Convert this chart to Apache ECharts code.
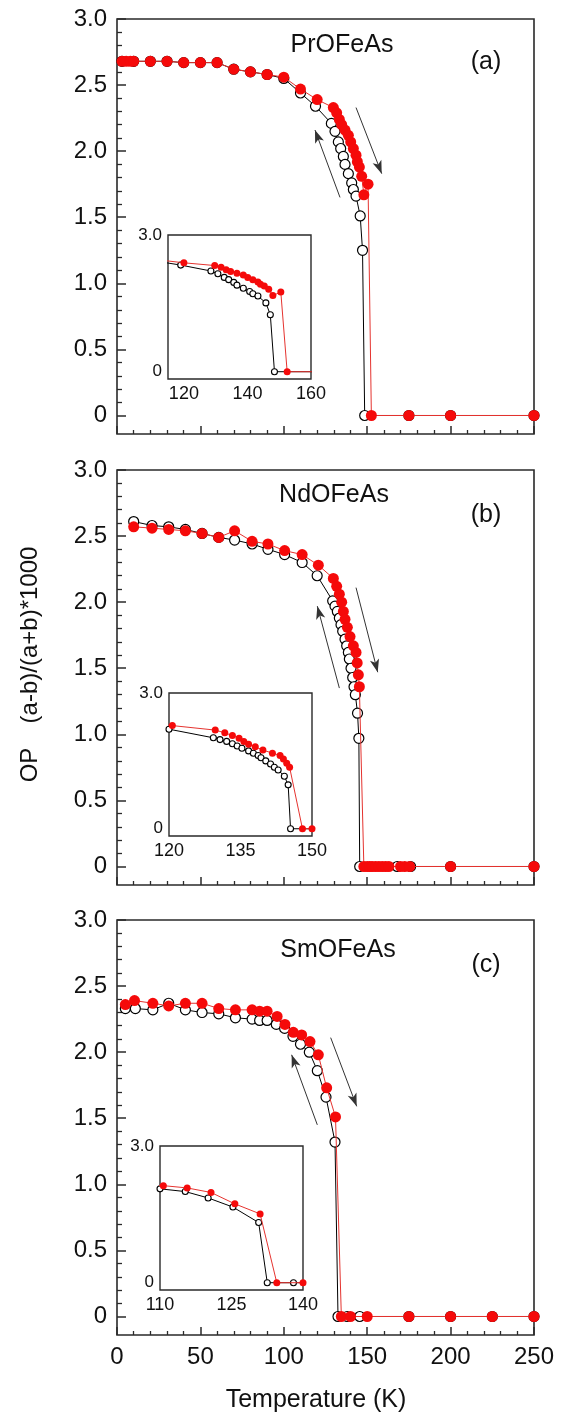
<!DOCTYPE html>
<html>
<head>
<meta charset="utf-8">
<script src="https://cdn.jsdelivr.net/npm/echarts@6/dist/echarts.min.js"></script>
<style>
  html, body { margin: 0; padding: 0; background: #fff; }
  #chart { width: 564px; height: 1414px; }
</style>
</head>
<body>
<div id="chart"></div>
<script>
// Orthorhombic order parameter OP = (a-b)/(a+b)*1000 versus temperature (K)
// Open circles: cooling run; filled red circles: warming run.

// ---- PrOFeAs ----
const prCooling = [
  [3, 2.68], [10, 2.68], [20, 2.68], [30, 2.68], [40, 2.67], [50, 2.67], [60, 2.67],
  [70, 2.62], [80, 2.60], [90, 2.58], [100, 2.55], [110, 2.44], [119, 2.34],
  [128.5, 2.21], [130.7, 2.15], [132.7, 2.07], [134.1, 2.02], [135.7, 1.96], [136.7, 1.90],
  [138.7, 1.83], [140.7, 1.76], [141.7, 1.71], [143.3, 1.66], [145.8, 1.51], [147.2, 1.25],
  [148.5, 0], [175, 0], [200, 0], [250, 0]
];
const prWarming = [
  [3, 2.68], [5.5, 2.68], [8, 2.68], [10, 2.68], [20, 2.68], [30, 2.68], [40, 2.67],
  [50, 2.67], [60, 2.67], [70, 2.62], [80, 2.60], [90, 2.58], [100, 2.56], [110, 2.47],
  [120, 2.39], [129.7, 2.33], [131.7, 2.29], [133.3, 2.24], [134.7, 2.20], [136.7, 2.16],
  [138.7, 2.12], [140.1, 2.07], [141.7, 2.02], [143.3, 1.97], [144.1, 1.92], [145.3, 1.88],
  [146.7, 1.81], [148, 1.67], [150.5, 1.75], [152.5, 0], [175, 0], [200, 0], [250, 0]
];

// ---- NdOFeAs ----
const ndCooling = [
  [10, 2.61], [21, 2.58], [31, 2.57], [41, 2.55], [51, 2.52], [61, 2.49], [70.5, 2.47],
  [81, 2.44], [90.5, 2.40], [100.5, 2.36], [111, 2.30], [120, 2.20], [129.3, 2.01],
  [130.7, 1.97], [132.1, 1.93], [133.3, 1.88], [134.3, 1.83], [135.3, 1.78], [136.7, 1.72],
  [137.7, 1.67], [138.7, 1.62], [139.3, 1.57], [140.3, 1.50], [141.3, 1.43], [142.1, 1.36],
  [142.9, 1.30], [144.2, 1.16], [145, 0.97], [145.5, 0], [168, 0], [176, 0], [200, 0], [250, 0]
];
const ndWarming = [
  [10, 2.57], [21, 2.56], [31, 2.55], [41, 2.54], [51, 2.52], [61, 2.49], [70.5, 2.54],
  [81, 2.46], [90.5, 2.44], [100.5, 2.39], [111, 2.36], [120.7, 2.28], [129.7, 2.18],
  [131.7, 2.12], [133.3, 2.06], [134.7, 2.00], [135.7, 1.93], [136.7, 1.87], [138.1, 1.81],
  [139.7, 1.74], [141.7, 1.67], [143.3, 1.62], [144, 1.54], [144.7, 1.45], [145.3, 1.36],
  [148, 0], [150, 0], [151.5, 0], [153, 0], [155, 0], [157, 0], [159, 0], [161, 0], [163, 0],
  [170, 0], [172.5, 0], [175.5, 0], [200, 0], [250, 0]
];

// ---- SmOFeAs ----
const smCooling = [
  [5, 2.33], [11, 2.33], [21.5, 2.32], [31, 2.37], [41, 2.32], [51, 2.30], [61, 2.29],
  [71, 2.26], [81, 2.25], [85.5, 2.24], [90, 2.24], [95.5, 2.21], [100.5, 2.18],
  [105.5, 2.12], [110, 2.06], [115.3, 2.00], [120.1, 1.86], [125.3, 1.66], [130.7, 1.32],
  [132.5, 0], [138, 0], [145.5, 0], [175, 0], [200, 0], [225, 0], [250, 0]
];
const smWarming = [
  [5, 2.36], [10.5, 2.39], [21.5, 2.37], [31, 2.35], [41, 2.37], [51, 2.37], [61, 2.33],
  [71, 2.32], [81, 2.32], [85.5, 2.31], [90, 2.31], [96, 2.27], [100.7, 2.21], [105.7, 2.15],
  [110.7, 2.13], [115.7, 2.08], [120.7, 1.98], [125.7, 1.73], [131, 1.51], [134.5, 0],
  [140, 0], [150, 0], [175, 0], [200, 0], [225, 0], [250, 0]
];

// ---- tick labels ----
const tempTicks = [0, 50, 100, 150, 200, 250];
const opMajorTicks = [0, 0.5, 1.0, 1.5, 2.0, 2.5, 3.0];
const opMinorTicks = [0.1, 0.2, 0.3, 0.4, 0.6, 0.7, 0.8, 0.9, 1.1, 1.2, 1.3, 1.4, 1.6, 1.7, 1.8, 1.9,
                      2.1, 2.2, 2.3, 2.4, 2.6, 2.7, 2.8, 2.9];
const insetOpTicks = [0, 3.0];
const prInsetTempTicks = [120, 140, 160];
const ndInsetTempTicks = [120, 135, 150];
const smInsetTempTicks = [110, 125, 140];

const compounds = ['PrOFeAs', 'NdOFeAs', 'SmOFeAs'];
const panelTags = ['(a)', '(b)', '(c)'];

// ---- layout (pixels) ----
const FONT = '"Liberation Sans", Arial, Helvetica, sans-serif';
const INK = '#111';
const FRAME = '#2a2a2a';
const OP_MIN = -0.14, OP_MAX = 3.0;
const mainLeft = 117, mainWidth = 417, mainHeight = 415;
const mainTops = [19, 470, 920];
const insets = [
  { left: 168, top: 235, width: 143, height: 144, min: 115, max: 160, ticks: prInsetTempTicks },
  { left: 169, top: 693, width: 143, height: 143, min: 120, max: 150, ticks: ndInsetTempTicks },
  { left: 160, top: 1146, width: 143, height: 144, min: 110, max: 140, ticks: smInsetTempTicks }
];
const titlePos = [[342, 45], [334, 495], [338, 950]];
const tagPos = [[486, 62], [486, 515], [486, 965]];
// arrow annotations in data units: [tail, head]
const arrowSets = [
  [[[133.7, 1.65], [118.7, 2.16]], [[143.3, 2.33], [158.7, 1.83]]],
  [[[133.3, 1.35], [120.1, 1.97]], [[143.3, 2.11], [156.3, 1.47]]],
  [[[120.1, 1.45], [104.7, 1.98]], [[128.1, 2.11], [143.7, 1.59]]]
];

const coolingSets = [prCooling, ndCooling, smCooling];
const warmingSets = [prWarming, ndWarming, smWarming];

const opFormat = v => (v === 0 ? '0' : v.toFixed(1));

const grid = [], xAxis = [], yAxis = [], series = [], graphic = [];

for (let i = 0; i < 3; i++) {
  // main panel
  const g = grid.length;
  grid.push({
    left: mainLeft, top: mainTops[i], width: mainWidth, height: mainHeight,
    show: true, borderColor: FRAME, borderWidth: 1.6, backgroundColor: 'transparent'
  });
  const xi = xAxis.length;
  xAxis.push({
    gridIndex: g, type: 'value', min: 0, max: 250, interval: 50, position: 'bottom',
    axisLine: { show: false, onZero: false },
    axisTick: { show: true, inside: true, length: 8, lineStyle: { color: FRAME, width: 1.5 } },
    minorTick: { show: true, splitNumber: 5, length: 4, lineStyle: { color: FRAME, width: 1.3 } },
    axisLabel: {
      show: i === 2, customValues: tempTicks, fontSize: 24, color: INK, margin: 10, fontFamily: FONT
    },
    splitLine: { show: false }, minorSplitLine: { show: false }
  });
  const yi = yAxis.length;
  yAxis.push({
    gridIndex: g, type: 'value', min: OP_MIN, max: OP_MAX, position: 'left',
    axisLine: { show: false, onZero: false },
    axisTick: { show: true, inside: true, length: 9, customValues: opMajorTicks,
                lineStyle: { color: FRAME, width: 1.5 } },
    axisLabel: { customValues: opMajorTicks, formatter: opFormat, fontSize: 24, color: INK,
                 margin: 10, fontFamily: FONT },
    splitLine: { show: false }
  });
  yAxis.push({
    gridIndex: g, type: 'value', min: OP_MIN, max: OP_MAX, position: 'left',
    axisLine: { show: false, onZero: false },
    axisTick: { show: true, inside: true, length: 5, customValues: opMinorTicks,
                lineStyle: { color: FRAME, width: 1.3 } },
    axisLabel: { show: false },
    splitLine: { show: false }
  });

  series.push({
    type: 'line', xAxisIndex: xi, yAxisIndex: yi, data: coolingSets[i],
    symbol: 'circle', symbolSize: 10,
    itemStyle: { color: '#fff', borderColor: '#000', borderWidth: 1.2 },
    lineStyle: { color: '#000', width: 1 },
    z: 3
  });
  series.push({
    type: 'line', xAxisIndex: xi, yAxisIndex: yi, data: warmingSets[i],
    symbol: 'circle', symbolSize: 11,
    itemStyle: { color: '#f50a0a' },
    lineStyle: { color: '#e5332f', width: 1 },
    z: 4,
    markLine: {
      silent: true, symbol: ['none', 'arrow'], symbolSize: [7, 13],
      label: { show: false },
      lineStyle: { color: '#333', width: 1, type: 'solid' },
      emphasis: { disabled: true },
      data: arrowSets[i].map(([tail, head]) => [{ coord: tail }, { coord: head }])
    }
  });

  // inset panel
  const ins = insets[i];
  const gi = grid.length;
  grid.push({
    left: ins.left, top: ins.top, width: ins.width, height: ins.height,
    show: true, borderColor: FRAME, borderWidth: 1.4, backgroundColor: '#fff', z: 5
  });
  const ixi = xAxis.length;
  xAxis.push({
    gridIndex: gi, type: 'value', min: ins.min, max: ins.max, z: 6, position: 'bottom',
    axisLine: { show: false, onZero: false }, axisTick: { show: false },
    axisLabel: { customValues: ins.ticks, fontSize: 18, color: INK, margin: 6, fontFamily: FONT },
    splitLine: { show: false }
  });
  const iyi = yAxis.length;
  yAxis.push({
    gridIndex: gi, type: 'value', min: -0.16, max: 3.0, z: 6, position: 'left',
    axisLine: { show: false, onZero: false }, axisTick: { show: false },
    axisLabel: { customValues: insetOpTicks, formatter: opFormat, fontSize: 17, color: INK,
                 margin: 6, fontFamily: FONT },
    splitLine: { show: false }
  });
  series.push({
    type: 'line', xAxisIndex: ixi, yAxisIndex: iyi, data: coolingSets[i],
    symbol: 'circle', symbolSize: 6, clip: true,
    itemStyle: { color: '#fff', borderColor: '#000', borderWidth: 1.1 },
    lineStyle: { color: '#000', width: 1 },
    z: 7
  });
  series.push({
    type: 'line', xAxisIndex: ixi, yAxisIndex: iyi, data: warmingSets[i],
    symbol: 'circle', symbolSize: 7, clip: true,
    itemStyle: { color: '#f50a0a' },
    lineStyle: { color: '#e5332f', width: 1 },
    z: 8
  });

  graphic.push({
    type: 'text', x: titlePos[i][0], y: titlePos[i][1],
    style: { text: compounds[i], fontSize: 25, fontFamily: FONT, fill: INK,
             textAlign: 'center', textVerticalAlign: 'middle' }
  });
  graphic.push({
    type: 'text', x: tagPos[i][0], y: tagPos[i][1],
    style: { text: panelTags[i], fontSize: 25, fontFamily: FONT, fill: INK,
             textAlign: 'center', textVerticalAlign: 'middle' }
  });
}

// axis titles
graphic.push({
  type: 'text', x: 30, y: 635, rotation: Math.PI / 2,
  style: { text: '(a-b)/(a+b)*1000', fontSize: 24, fontFamily: FONT, fill: INK,
           textAlign: 'center', textVerticalAlign: 'middle' }
});
graphic.push({
  type: 'text', x: 30, y: 765, rotation: Math.PI / 2,
  style: { text: 'OP', fontSize: 24, fontFamily: FONT, fill: INK,
           textAlign: 'center', textVerticalAlign: 'middle' }
});
graphic.push({
  type: 'text', x: 316, y: 1400,
  style: { text: 'Temperature (K)', fontSize: 25, fontFamily: FONT, fill: INK,
           textAlign: 'center', textVerticalAlign: 'middle' }
});

const chart = echarts.init(document.getElementById('chart'), null, { renderer: 'canvas' });
chart.setOption({
  animation: false,
  backgroundColor: '#fff',
  grid, xAxis, yAxis, series, graphic
});
</script>
</body>
</html>
